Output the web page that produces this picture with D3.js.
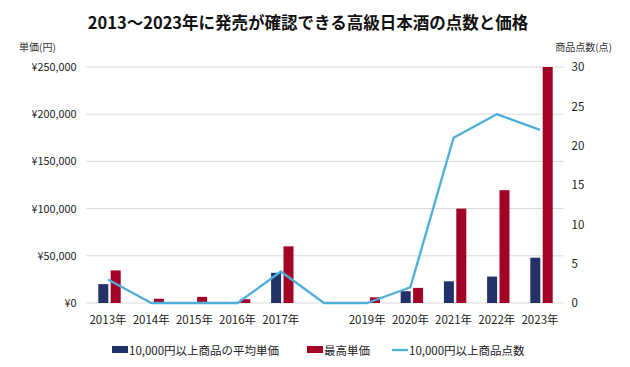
<!DOCTYPE html>
<html><head><meta charset="utf-8">
<script src="https://cdn.jsdelivr.net/npm/d3@7"></script>
<style>body{margin:0;background:#fff}svg{display:block}text{font-family:"Noto Sans CJK JP","Noto Sans",sans-serif}</style>
</head><body><svg id="c" width="630" height="367"></svg>
<script>
const years = ["2013","2014","2015","2016","2017","2018","2019","2020","2021","2022","2023"];
const xLabels = ["2013年","2014年","2015年","2016年","2017年","","2019年","2020年","2021年","2022年","2023年"];
const avgPrice = [20000,0,0,0,32000,0,0,12500,23000,28000,48000];
const maxPrice = [34500,4500,6500,4000,60000,0,6000,16000,100000,119500,250000];
const counts = [3,0,0,0,4,0,0,2,21,24,22];
const leftTicks = [0,50000,100000,150000,200000,250000];
const rightTicks = [0,5,10,15,20,25,30];
const seriesNames = ["10,000円以上商品の平均単価","最高単価","10,000円以上商品点数"];
const colors = ["#233169","#a20226","#4dafd9"];

const svg = d3.select("#c");
const L=86.4, R=561.6, T=67, B=303;
const x = d3.scaleBand().domain(years).range([L,R]);
const yL = d3.scaleLinear().domain([0,250000]).range([B,T]);
const yR = d3.scaleLinear().domain([0,30]).range([B,T]);

svg.append("text").attr("x",308).attr("y",29).attr("text-anchor","middle")
  .attr("font-size",16.5).attr("font-weight","bold").attr("fill","#111")
  .text("2013〜2023年に発売が確認できる高級日本酒の点数と価格");
svg.append("text").attr("x",19).attr("y",51).attr("font-size",10).attr("fill","#333").text("単価(円)");
svg.append("text").attr("x",612).attr("y",51).attr("text-anchor","end").attr("font-size",10).attr("fill","#333").text("商品点数(点)");

// grid
svg.append("g").selectAll("line").data(leftTicks).join("line")
  .attr("x1",L).attr("x2",R+2).attr("y1",d=>yL(d)).attr("y2",d=>yL(d))
  .attr("stroke","#d9d9d9").attr("stroke-width",1);

// left axis
const fmt = d=>"¥"+d3.format(",")(d);
const gl = svg.append("g").attr("transform",`translate(${L},0)`)
  .call(d3.axisLeft(yL).tickValues(leftTicks).tickFormat(fmt).tickSize(0).tickPadding(10));
gl.select(".domain").remove();
gl.selectAll("text").attr("font-size",10.8).attr("fill","#222").style("font-family","'Noto Sans CJK JP',sans-serif");

const gr = svg.append("g").attr("transform",`translate(${R},0)`)
  .call(d3.axisRight(yR).tickValues(rightTicks).tickSize(0).tickPadding(10));
gr.select(".domain").remove();
gr.selectAll("text").attr("font-size",11.5).attr("fill","#222");

const gx = svg.append("g").attr("transform",`translate(0,${B})`)
  .call(d3.axisBottom(x).tickFormat((d,i)=>xLabels[i]).tickSize(0).tickPadding(13));
gx.select(".domain").remove();
gx.selectAll("text").attr("font-size",11.5).attr("fill","#222");

const bw = 10, gap = 2.4;
svg.append("g").selectAll("rect").data(years).join("rect")
  .attr("x",d=>x(d)+x.bandwidth()/2-bw-gap/2+1.5).attr("width",bw)
  .attr("y",(d,i)=>yL(avgPrice[i])).attr("height",(d,i)=>B-yL(avgPrice[i]))
  .attr("fill",colors[0]);
svg.append("g").selectAll("rect").data(years).join("rect")
  .attr("x",d=>x(d)+x.bandwidth()/2+gap/2+1.5).attr("width",bw)
  .attr("y",(d,i)=>yL(maxPrice[i])).attr("height",(d,i)=>B-yL(maxPrice[i]))
  .attr("fill",colors[1]);

const line = d3.line().x((d,i)=>x(years[i])+x.bandwidth()/2).y(d=>yR(d));
svg.append("path").datum(counts).attr("d",line).attr("fill","none")
  .attr("stroke",colors[2]).attr("stroke-width",2.3).attr("stroke-linejoin","round");

// legend
const lg = svg.append("g");
const items = [{x:112,t:"rect"},{x:307,t:"rect"},{x:392,t:"line"}];
items.forEach((it,i)=>{
  if(it.t==="rect") lg.append("rect").attr("x",it.x).attr("y",346).attr("width",16).attr("height",7).attr("fill",colors[i]);
  else lg.append("line").attr("x1",it.x).attr("x2",it.x+16).attr("y1",350).attr("y2",350).attr("stroke",colors[i]).attr("stroke-width",2.3);
  lg.append("text").attr("x",it.x+17).attr("y",354.5).attr("font-size",11.5).attr("fill","#222").text(seriesNames[i]);
});
</script></body></html>
